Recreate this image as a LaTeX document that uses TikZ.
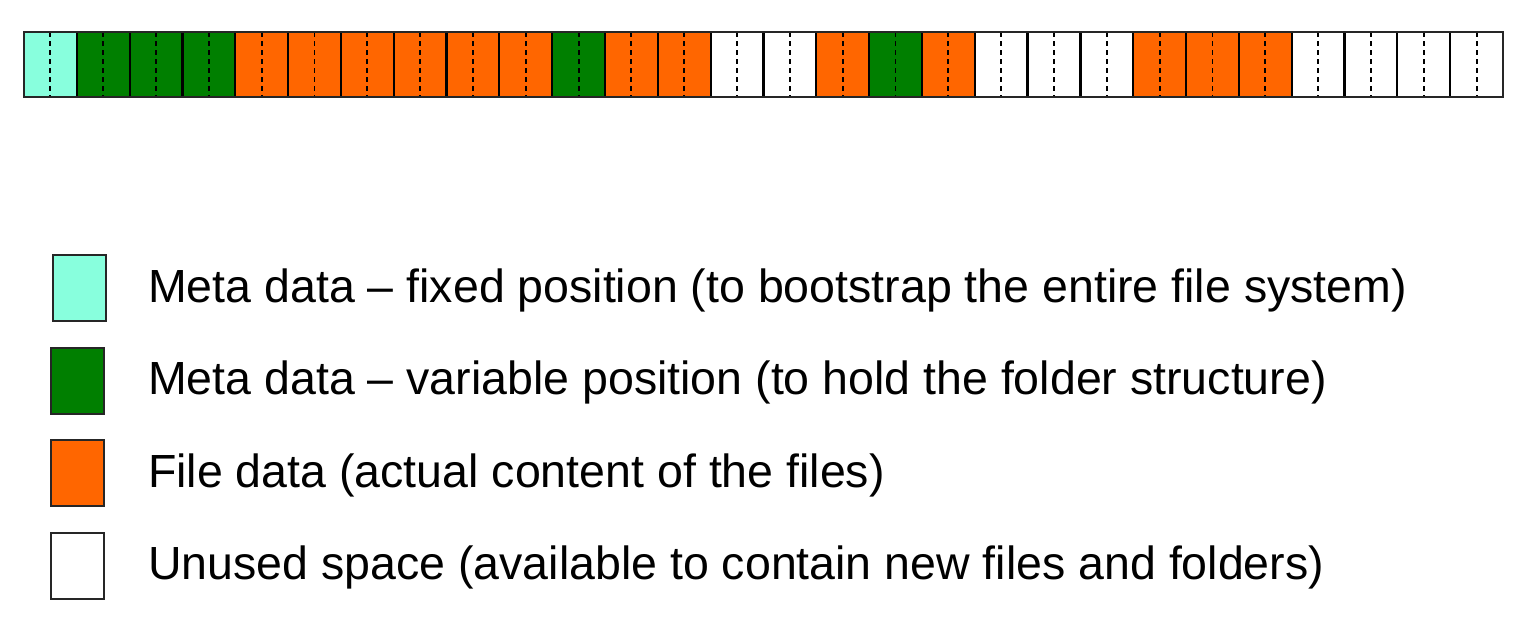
\documentclass[tikz,border=0pt]{standalone}
\usepackage{fontspec}
\setmainfont{Liberation Sans}
\definecolor{metafixed}{HTML}{88FFDD}
\definecolor{metavar}{HTML}{007F00}
\definecolor{filedata}{HTML}{FF6600}
\definecolor{unused}{HTML}{FFFFFF}
\begin{document}
\begin{tikzpicture}[x=1pt,y=-1pt,
  block/.style={draw=black, line width=2.2pt, minimum width=52.82pt,
    minimum height=65pt, inner sep=0pt, outer sep=0pt, anchor=north west},
  midline/.style={dash pattern=on 5pt off 4pt, line width=1.9pt},
  swatch/.style={draw=black!85, line width=2pt, minimum width=53pt,
    minimum height=66pt, inner sep=0pt, outer sep=0pt},
  legendtext/.style={anchor=base west, inner sep=0pt,
    font=\fontsize{46.5}{56}\selectfont}]
\useasboundingbox (0,0) rectangle (1530,640);
% disk blocks, each split by a dashed half line
\foreach [count=\i from 0] \c in {metafixed,
    metavar, metavar, metavar,
    filedata, filedata, filedata, filedata, filedata, filedata,
    metavar, filedata, filedata, unused, unused,
    filedata, metavar, filedata,
    unused, unused, unused,
    filedata, filedata, filedata,
    unused, unused, unused, unused} {
  \node[block, fill=\c] (b\i) at (24+\i*52.82, 32) {};
  \draw[midline] (b\i.north) -- (b\i.south);
}
\draw[line width=2.4pt, draw=black!85] (b0.north west) rectangle (b27.south east);
% legend
\node[swatch, fill=metafixed] (k1) at (79, 288) {};
\node[swatch, fill=metavar]   (k2) at (77, 381) {};
\node[swatch, fill=filedata]  (k3) at (77, 473) {};
\node[swatch, fill=unused]    (k4) at (77, 566) {};
\node[legendtext] (t1) at (148, 302) {Meta data -- fixed position (to bootstrap the entire file system)};
\node[legendtext] (t2) at (148, 394) {Meta data -- variable position (to hold the folder structure)};
\node[legendtext] (t3) at (148, 487) {File data (actual content of the files)};
\node[legendtext] (t4) at (148, 579) {Unused space (available to contain new files and folders)};
\end{tikzpicture}
\end{document}
